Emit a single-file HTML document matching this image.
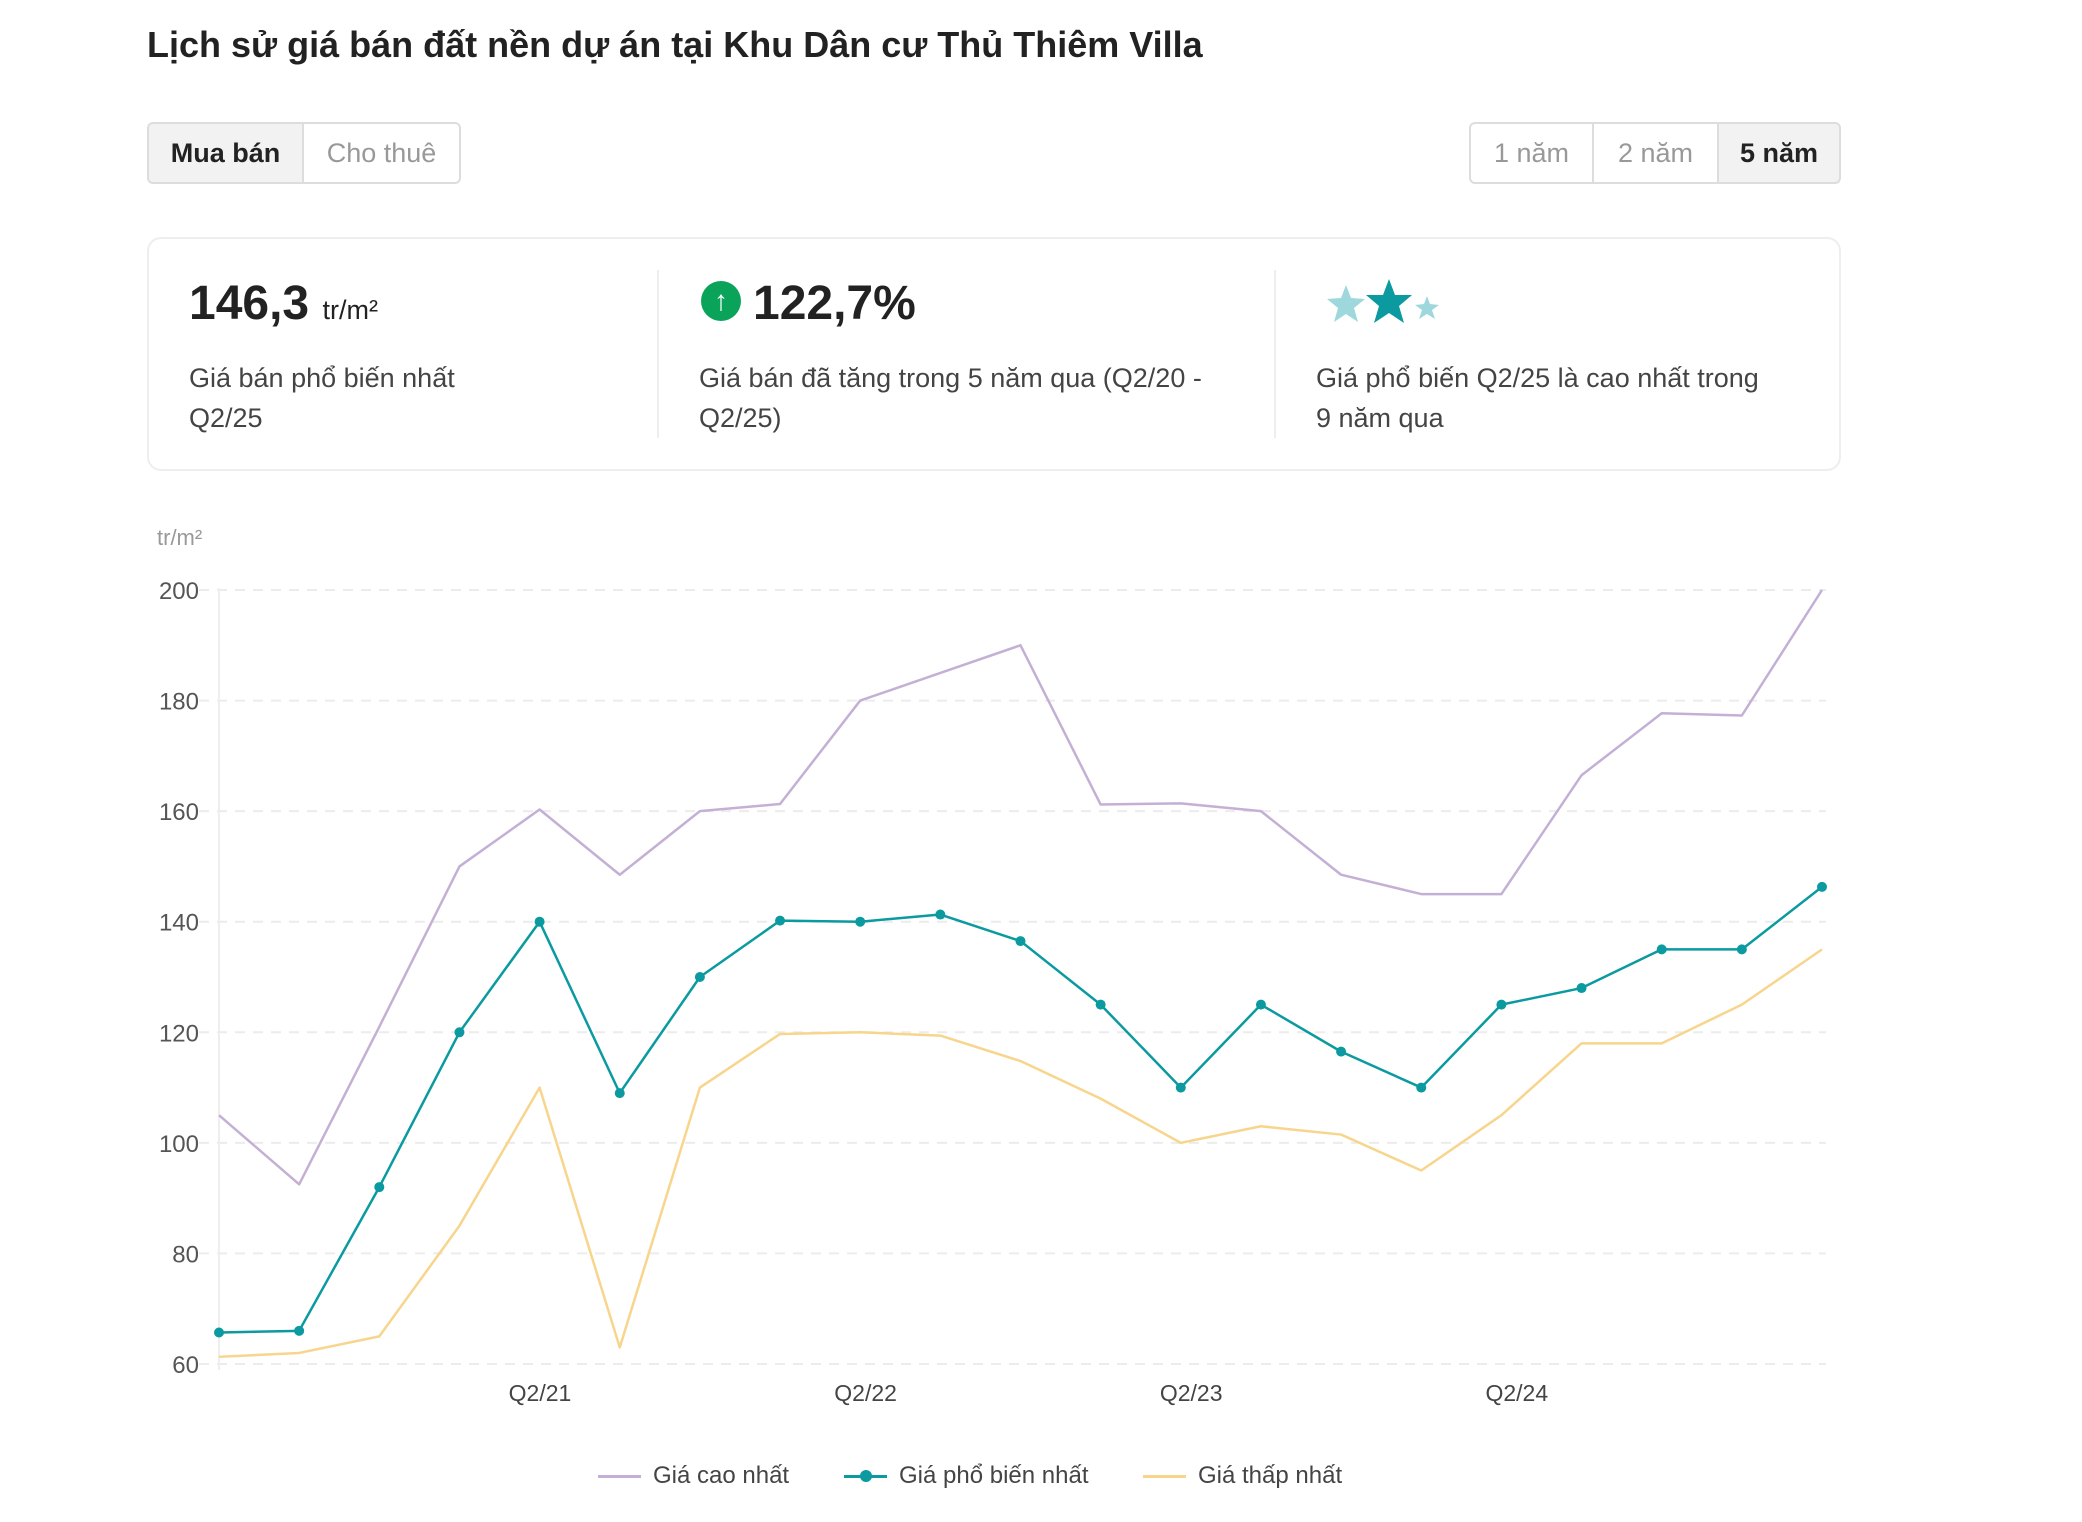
<!DOCTYPE html>
<html><head><meta charset="utf-8">
<style>
*{margin:0;padding:0;box-sizing:border-box}
body{width:2082px;height:1522px;background:#fff;font-family:"Liberation Sans",sans-serif;color:#222;position:relative;overflow:hidden}
.abs{position:absolute}
.btn{position:absolute;top:122px;height:62px;display:flex;align-items:center;justify-content:center;font-size:27px;color:#999;border:2px solid #ddd;background:#fff}
.btn.on{background:#f2f2f2;color:#222;font-weight:bold}
.desc{font-size:27px;color:#444;line-height:40px}
</style></head><body>
<div class="abs" style="left:147px;top:24px;font-size:36px;font-weight:bold;color:#222">Lịch sử giá bán đất nền dự án tại Khu Dân cư Thủ Thiêm Villa</div>

<div class="btn on" style="left:147px;width:157px;border-radius:6px 0 0 6px">Mua bán</div>
<div class="btn" style="left:302px;width:159px;border-radius:0 6px 6px 0">Cho thuê</div>
<div class="btn" style="left:1469px;width:125px;border-radius:6px 0 0 6px">1 năm</div>
<div class="btn" style="left:1592px;width:127px">2 năm</div>
<div class="btn on" style="left:1717px;width:124px;border-radius:0 6px 6px 0">5 năm</div>

<div class="abs" style="left:147px;top:237px;width:1694px;height:234px;border:2px solid #eee;border-radius:14px"></div>
<div class="abs" style="left:657px;top:270px;width:2px;height:168px;background:#eee"></div>
<div class="abs" style="left:1274px;top:270px;width:2px;height:168px;background:#eee"></div>

<div class="abs" style="left:189px;top:276px;font-size:48px;font-weight:bold;color:#222">146,3 <span style="font-size:27px;font-weight:normal">tr/m²</span></div>
<div class="abs desc" style="left:189px;top:358px">Giá bán phổ biến nhất<br>Q2/25</div>

<div class="abs" style="left:701px;top:281px;width:40px;height:40px;border-radius:50%;background:#0aa35a;color:#fff;font-size:28px;font-weight:bold;text-align:center;line-height:40px">↑</div>
<div class="abs" style="left:753px;top:276px;font-size:48px;font-weight:bold;color:#222">122,7%</div>
<div class="abs desc" style="left:699px;top:358px">Giá bán đã tăng trong 5 năm qua (Q2/20 -<br>Q2/25)</div>

<svg class="abs" style="left:1320px;top:275px" width="140" height="60" viewBox="0 0 140 60">
<polygon fill="#9fd8dc" points="26,10 31,23 45,24 34,33 38,47 26,39 14,47 18,33 7,24 21,23"/>
<polygon fill="#0a9aa0" points="69,4 75,20 92,20 79,31 84,48 69,38 54,48 59,31 46,20 63,20"/>
<polygon fill="#9fd8dc" points="107,21 110,29 119,30 112,35 115,44 107,39 99,44 102,35 95,30 104,29"/>
</svg>
<div class="abs desc" style="left:1316px;top:358px">Giá phổ biến Q2/25 là cao nhất trong<br>9 năm qua</div>

<svg class="abs" id="chart" style="left:0;top:0" width="2082" height="1522"></svg>

<div class="abs" style="left:0;top:1462px;width:2082px;height:34px;font-size:24px;color:#444">
 <div class="abs" style="left:598px;top:0;white-space:nowrap"><span style="display:inline-block;width:43px;height:3px;background:#c4b0d4;vertical-align:middle;margin-right:12px"></span>Giá cao nhất</div>
 <div class="abs" style="left:844px;top:0;white-space:nowrap"><span style="display:inline-block;width:43px;height:3px;background:#0a9aa0;vertical-align:middle;margin-right:12px;position:relative"><span style="position:absolute;left:16px;top:-5px;width:12px;height:12px;border-radius:50%;background:#0a9aa0"></span></span>Giá phổ biến nhất</div>
 <div class="abs" style="left:1143px;top:0;white-space:nowrap"><span style="display:inline-block;width:43px;height:3px;background:#f7d58c;vertical-align:middle;margin-right:12px"></span>Giá thấp nhất</div>
</div>

<script>
const quarters = ["Q2/20","Q3/20","Q4/20","Q1/21","Q2/21","Q3/21","Q4/21","Q1/22","Q2/22","Q3/22","Q4/22","Q1/23","Q2/23","Q3/23","Q4/23","Q1/24","Q2/24","Q3/24","Q4/24","Q1/25","Q2/25"];
const maxPrice = [105,92.5,121,150,160.3,148.5,160,161.3,180,185,190,161.2,161.4,160,148.5,145,145,166.5,177.7,177.3,200];
const popularPrice = [65.7,66,92,120,140,109,130,140.2,140,141.3,136.5,125,110,125,116.5,110,125,128,135,135,146.3];
const minPrice = [61.3,62,65,85,110,63,110,119.7,120,119.4,114.8,108,100,103,101.5,95,105,118,118,125,135];
const yTicks = [60,80,100,120,140,160,180,200];
const xLabels = ["Q2/21","Q2/22","Q2/23","Q2/24"];

const svg = document.getElementById('chart');
const NS = 'http://www.w3.org/2000/svg';
const x0=219, x1=1822, yTop=590, yBot=1364, vMin=60, vMax=200;
function xs(i){return x0+(x1-x0)*i/(quarters.length-1);}
function xl(i){return 540+(i-4)*81.4;}
function ys(v){return yBot-(v-vMin)/(vMax-vMin)*(yBot-yTop);}
function mk(tag,attrs){const e=document.createElementNS(NS,tag);for(const k in attrs)e.setAttribute(k,attrs[k]);svg.appendChild(e);return e;}

const unit=mk('text',{x:157,y:545,'font-size':22,fill:'#999','font-family':'Liberation Sans, sans-serif'});
unit.textContent='tr/m²';



yTicks.forEach(v=>{
  const g=mk('line',{x1:199,x2:1826,y1:ys(v),y2:ys(v),stroke:'#ececec','stroke-width':2,'stroke-dasharray':'10,8'});
  
  
  const t=mk('text',{x:199,y:ys(v)+9,'text-anchor':'end','font-size':24,fill:'#555','font-family':'Liberation Sans, sans-serif'});
  t.textContent=v;
  
  
});
const ax=mk('line',{x1:219,x2:219,y1:588,y2:1370,stroke:'#eee','stroke-width':2});



xLabels.forEach(l=>{
  const i=quarters.indexOf(l);
  const t=mk('text',{x:xl(i),y:1401,'text-anchor':'middle','font-size':23,fill:'#444','font-family':'Liberation Sans, sans-serif'});
  t.textContent=l;
  
  
});

function line(data,color,name){
  const p=mk('polyline',{points:data.map((v,i)=>xs(i)+','+ys(v)).join(' '),fill:'none',stroke:color,'stroke-width':2.5,'stroke-linejoin':'round'});
  
  
}
line(minPrice,'#f7d58c','min-price-line');
line(maxPrice,'#c4b0d4','max-price-line');
line(popularPrice,'#0a9aa0','popular-price-line');
popularPrice.forEach((v,i)=>{
  const c=mk('circle',{cx:xs(i),cy:ys(v),r:5,fill:'#0a9aa0'});
  
  
});
</script>
</body></html>
